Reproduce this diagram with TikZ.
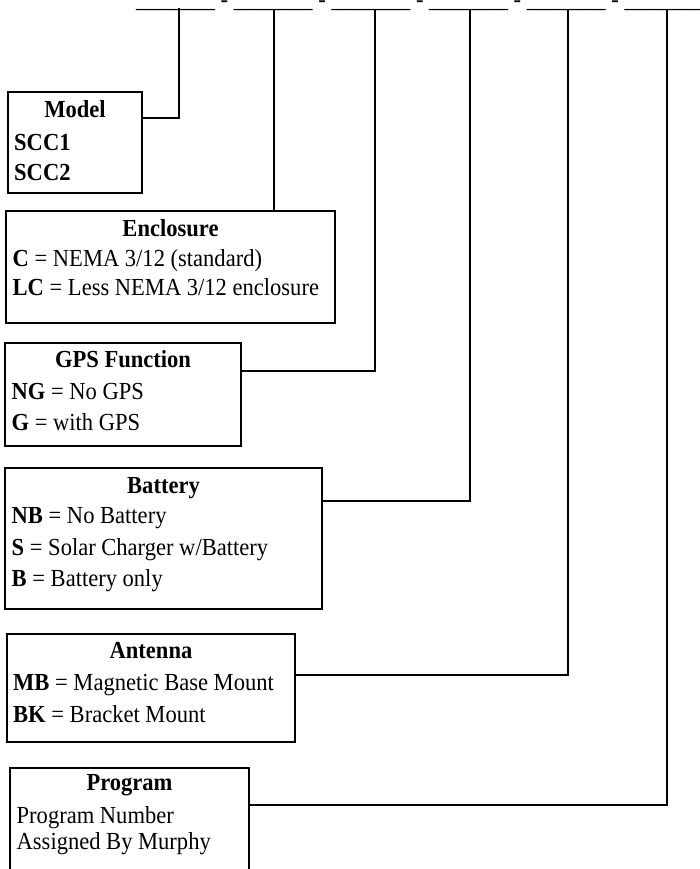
\documentclass[tikz,border=0pt]{standalone}
\usepackage{fontspec}
\setmainfont{Liberation Serif}[FakeStretch=0.92]
\begin{document}
\begin{tikzpicture}[x=1pt,y=-1pt,
  every node/.style={font=\fontsize{24.5}{29}\selectfont},
  box/.style={draw, line width=1.3pt, inner sep=0pt, outer sep=0pt, anchor=north west},
  conn/.style={line width=1.3pt},
  ttl/.style={anchor=base, inner sep=0pt, font=\fontsize{24.5}{29}\selectfont\bfseries},
  txt/.style={anchor=base west, inner sep=0pt}]
\useasboundingbox (0,0) rectangle (699,869);
\clip (0,0) rectangle (699,869);
% code line
\node[txt] (code) at (136,7.6) {\_\_\_\_\_\_\_ - \_\_\_\_\_\_\_ - \_\_\_\_\_\_\_ - \_\_\_\_\_\_\_ - \_\_\_\_\_\_\_ - \_\_\_\_\_\_\_\_\_};
\coordinate (t1) at (179,8);
\coordinate (t2) at (274,10);
\coordinate (t3) at (375,10);
\coordinate (t4) at (470,10);
\coordinate (t5) at (568,10);
\coordinate (t6) at (667,10);
\coordinate (j1) at (179,118);
\coordinate (j3) at (375,371);
\coordinate (j4) at (470,501);
\coordinate (j5) at (568,675);
\coordinate (j6) at (667,805);
% boxes
\node[box, minimum width=134pt, minimum height=101pt] (model) at (8,92) {};
\node[box, minimum width=329pt, minimum height=112pt] (encl) at (6,211) {};
\node[box, minimum width=236pt, minimum height=103pt] (gps) at (5,343) {};
\node[box, minimum width=317pt, minimum height=141pt] (batt) at (5,468) {};
\node[box, minimum width=288pt, minimum height=108pt] (ant) at (7,634) {};
\node[box, minimum width=239pt, minimum height=130pt] (prog) at (10,768) {};
% texts
\node[ttl] (modelT) at (75,118) {Model};
\node[txt] (model1) at (14,151) {\textbf{SCC1}};
\node[txt] (model2) at (14,180) {\textbf{SCC2}};
\node[ttl] (enclT) at (170.5,236) {Enclosure};
\node[txt] (encl1) at (12.5,266) {\textbf{C} = NEMA 3/12 (standard)};
\node[txt] (encl2) at (12.5,295) {\textbf{LC} = Less NEMA 3/12 enclosure};
\node[ttl] (gpsT) at (123,367) {GPS Function};
\node[txt] (gps1) at (11.5,399) {\textbf{NG} = No GPS};
\node[txt] (gps2) at (11.5,430.5) {\textbf{G} = with GPS};
\node[ttl] (battT) at (163.5,493) {Battery};
\node[txt] (batt1) at (11.5,523) {\textbf{NB} = No Battery};
\node[txt] (batt2) at (11.5,555) {\textbf{S} = Solar Charger w/Battery};
\node[txt] (batt3) at (11.5,586) {\textbf{B} = Battery only};
\node[ttl] (antT) at (151,658) {Antenna};
\node[txt] (ant1) at (13,690.5) {\textbf{MB} = Magnetic Base Mount};
\node[txt] (ant2) at (13,722.5) {\textbf{BK} = Bracket Mount};
\node[ttl] (progT) at (129.5,790) {Program};
\node[txt] (prog1) at (16.5,823) {Program Number};
\node[txt] (prog2) at (16.5,849) {Assigned By Murphy};
% connectors
\draw[conn] (t1) -- (j1) -- (model.east |- j1);
\draw[conn] (t2) -- (t2 |- encl.north);
\draw[conn] (t3) -- (j3) -- (gps.east |- j3);
\draw[conn] (t4) -- (j4) -- (batt.east |- j4);
\draw[conn] (t5) -- (j5) -- (ant.east |- j5);
\draw[conn] (t6) -- (j6) -- (prog.east |- j6);
\end{tikzpicture}
\end{document}
